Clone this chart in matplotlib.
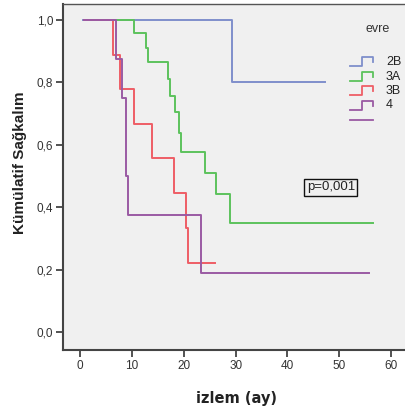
import numpy as np
import matplotlib
matplotlib.use("Agg")
import matplotlib.pyplot as plt

plt.rcParams["font.family"] = ["Liberation Sans", "DejaVu Sans"]

# Kaplan-Meier steps (time in months, cumulative survival)
t_2B = [0.6, 29.3, 47.2]
s_2B = [1.0, 0.8, 0.8]
t_3A = [0.8, 10.4, 12.7, 13.0, 17.0, 17.4, 18.2, 19.0, 19.5, 24.1, 26.3, 28.9, 56.6]
s_3A = [1.0, 0.957, 0.911, 0.865, 0.811, 0.757, 0.704, 0.637, 0.576, 0.509, 0.441, 0.350, 0.350]
t_3B = [0.8, 6.4, 7.6, 10.4, 13.9, 18.1, 20.5, 20.8, 26.1]
s_3B = [1.0, 0.889, 0.778, 0.667, 0.556, 0.444, 0.333, 0.222, 0.222]
t_4 = [0.8, 6.9, 8.0, 8.8, 9.3, 23.4, 55.8]
s_4 = [1.0, 0.875, 0.75, 0.5, 0.375, 0.1875, 0.1875]

groups = ["2B", "3A", "3B", "4"]
colors = ["#7f8fcb", "#5cc25c", "#ee5e66", "#9a5aa3"]
x_ticks = [0, 10, 20, 30, 40, 50, 60]
y_ticks = [0.0, 0.2, 0.4, 0.6, 0.8, 1.0]
p_text = "p=0,001"

W, H = 405, 418
fig = plt.figure(figsize=(W / 100, H / 100), dpi=100)
ax = fig.add_axes([63 / W, 1 - 350 / H, 1 - 63 / W, (350 - 4) / H])
ax.set_facecolor("#f0f0f0")

for t, s, c in zip([t_2B, t_3A, t_3B, t_4], [s_2B, s_3A, s_3B, s_4], colors):
    ax.plot(t, s, drawstyle="steps-post", color=c, lw=1.4)

ax.set_xlim(-3.34, 62.7)
ax.set_ylim(-0.058, 1.051)
ax.set_xticks(x_ticks)
ax.set_xticklabels([str(v) for v in x_ticks])
ax.set_yticks(y_ticks)
ax.set_yticklabels([f"{v:.1f}".replace(".", ",") for v in y_ticks])
ax.tick_params(direction="out", length=5, width=1.3, color="#444", labelcolor="#333",
               labelsize=8.5, pad=2)
for side in ["left", "bottom"]:
    ax.spines[side].set_color("#444")
    ax.spines[side].set_linewidth(1.5)
ax.spines["top"].set_color("#555")
ax.spines["top"].set_linewidth(1.0)
ax.spines["right"].set_visible(False)

ax.text(48.4, 0.463, p_text, ha="center", va="center", fontsize=9.5, color="#222",
        bbox=dict(boxstyle="square,pad=0.18", fc="#f0f0f0", ec="#111", lw=1.0))

fig.text(20 / W, 1 - 163 / H, "Kümülatif Sağkalım", rotation=90, ha="center", va="center",
         fontsize=11, fontweight="bold", color="#222")
fig.text(236 / W, 1 - 398 / H, "izlem (ay)", ha="center", va="center",
         fontsize=10.5, fontweight="bold", color="#222", family="DejaVu Sans")


# legend drawn by hand (SPSS-style step icons)
def px(x, y):
    return x / W, 1 - y / H


fig.text(*px(378, 29), "evre", ha="center", va="center", fontsize=9, color="#333")
rows = [62, 76.5, 91, 105.5]
for g, c, y in zip(groups, colors, rows):
    xs = [350, 362, 362, 373, 373]
    ys = [y + 4, y + 4, y - 5, y - 5, y]
    pts = [px(a, b) for a, b in zip(xs, ys)]
    fig.add_artist(plt.Line2D([p[0] for p in pts], [p[1] for p in pts], color=c, lw=1.3))
    fig.text(*px(386, y), g, ha="left", va="center", fontsize=9, color="#222")
a, b = px(350, 120)
c2, _ = px(373, 120)
fig.add_artist(plt.Line2D([a, c2], [b, b], color=colors[3], lw=1.3))

fig.savefig("out.png", dpi=100)
